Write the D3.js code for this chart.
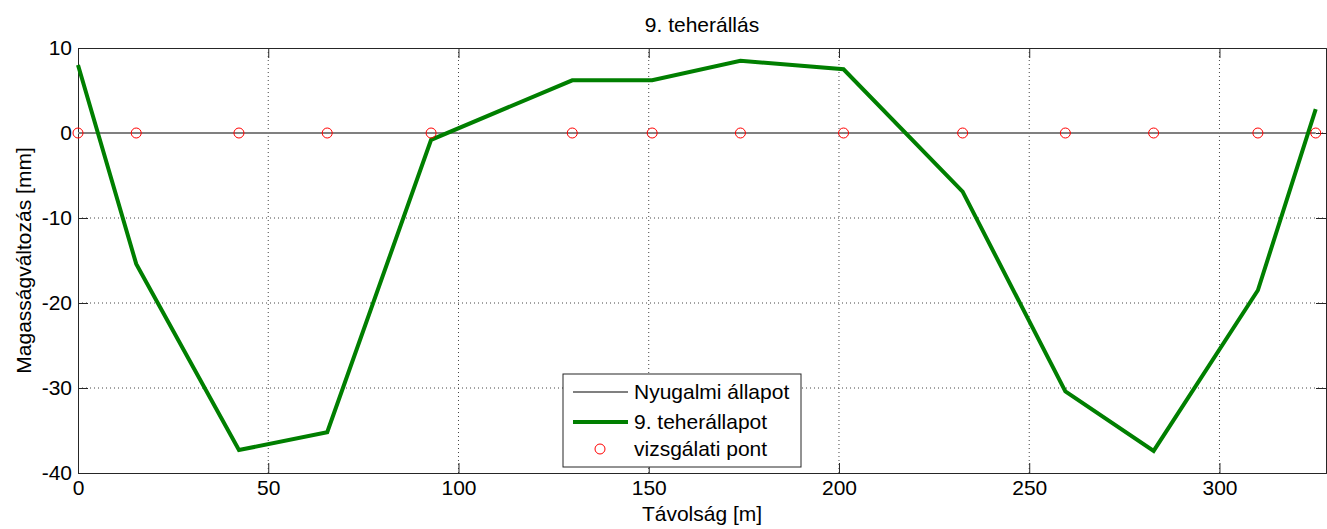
<!DOCTYPE html>
<html>
<head>
<meta charset="utf-8">
<script src="https://cdn.jsdelivr.net/npm/d3@7"></script>
<style>
  body { margin: 0; background: #fff; }
  text { font-family: "Liberation Sans", Arial, sans-serif; fill: #000; }
</style>
</head>
<body>
<div id="chart"></div>
<script>
// data
var distance = [0, 15.3, 42.3, 65.5, 92.8, 129.9, 150.9, 174.1, 201.2, 232.5, 259.5, 282.7, 310.1, 325.3];
var loaded = [8.0, -15.4, -37.3, -35.2, -0.8, 6.2, 6.2, 8.5, 7.5, -6.9, -30.4, -37.4, -18.5, 2.8];
var rest = [0, 0, 0, 0, 0, 0, 0, 0, 0, 0, 0, 0, 0, 0];
var xTicks = [0, 50, 100, 150, 200, 250, 300];
var yTicks = [-40, -30, -20, -10, 0, 10];
var legendLabels = ["Nyugalmi állapot", "9. teherállapot", "vizsgálati pont"];

var width = 1327, height = 529;
var plotLeft = 78, plotRight = 1326, plotTop = 48, plotBottom = 473;
var fontSize = "21px";

var svg = d3.select("#chart").append("svg")
    .attr("width", width)
    .attr("height", height);

var xScale = d3.scaleLinear().domain([0, 328]).range([plotLeft, plotRight]);
var yScale = d3.scaleLinear().domain([-40, 10]).range([plotBottom, plotTop]);

// grid (dotted)
svg.append("g").selectAll("line")
    .data(xTicks.filter(d => d > 0))
    .enter().append("line")
    .attr("x1", d => xScale(d)).attr("x2", d => xScale(d))
    .attr("y1", plotTop).attr("y2", plotBottom)
    .attr("stroke", "#444").attr("stroke-width", 1)
    .attr("stroke-dasharray", "1,3");
svg.append("g").selectAll("line")
    .data(yTicks.filter(d => d > -40 && d < 10))
    .enter().append("line")
    .attr("x1", plotLeft).attr("x2", plotRight)
    .attr("y1", d => yScale(d)).attr("y2", d => yScale(d))
    .attr("stroke", "#444").attr("stroke-width", 1)
    .attr("stroke-dasharray", "1,3");

// axes, ticks inward like matlab (plain hyphen for minus)
var plain = d => String(d);
var xAxis = d3.axisBottom(xScale).tickValues(xTicks).tickSize(-10).tickPadding(7).tickFormat(plain);
var yAxis = d3.axisLeft(yScale).tickValues(yTicks).tickSize(-10).tickPadding(6).tickFormat(plain);

var gx = svg.append("g").attr("transform", "translate(0," + plotBottom + ")").call(xAxis);
var gy = svg.append("g").attr("transform", "translate(" + plotLeft + ",0)").call(yAxis);
svg.append("g").attr("transform", "translate(0," + plotTop + ")")
    .call(d3.axisTop(xScale).tickValues(xTicks).tickSize(-10).tickFormat(""));
svg.append("g").attr("transform", "translate(" + plotRight + ",0)")
    .call(d3.axisRight(yScale).tickValues(yTicks).tickSize(-10).tickFormat(""));

svg.selectAll(".domain").attr("stroke", "#262626");
svg.selectAll(".tick line").attr("stroke", "#262626");
gx.selectAll("text").style("font-size", fontSize).attr("dy", "0.71em");
gy.selectAll("text").style("font-size", fontSize);

// series
var line = d3.line().x(d => xScale(d[0])).y(d => yScale(d[1]));

svg.append("path")
    .datum(d3.zip(distance, rest))
    .attr("d", line)
    .attr("fill", "none")
    .attr("stroke", "#808080")
    .attr("stroke-width", 2);

svg.append("path")
    .datum(d3.zip(distance, loaded))
    .attr("d", line)
    .attr("fill", "none")
    .attr("stroke", "#007f00")
    .attr("stroke-width", 4);

svg.append("g").selectAll("circle")
    .data(d3.zip(distance, rest))
    .enter().append("circle")
    .attr("cx", d => xScale(d[0]))
    .attr("cy", d => yScale(d[1]))
    .attr("r", 5)
    .attr("fill", "none")
    .attr("stroke", "#ff0000")
    .attr("stroke-width", 1);

// title and labels
svg.append("text")
    .attr("x", (plotLeft + plotRight) / 2).attr("y", 32)
    .attr("text-anchor", "middle")
    .style("font-size", fontSize)
    .text("9. teherállás");

svg.append("text")
    .attr("x", (plotLeft + plotRight) / 2).attr("y", 521)
    .attr("text-anchor", "middle")
    .style("font-size", fontSize)
    .text("Távolság [m]");

svg.append("text")
    .attr("transform", "translate(31," + ((plotTop + plotBottom) / 2) + ") rotate(-90)")
    .attr("text-anchor", "middle")
    .style("font-size", fontSize)
    .text("Magasságváltozás [mm]");

// legend
var legend = svg.append("g").attr("transform", "translate(563,374)");
legend.append("rect")
    .attr("width", 238).attr("height", 93)
    .attr("fill", "#fff").attr("stroke", "#262626");

var rowY = [18, 48, 75];
legend.append("line")
    .attr("x1", 10).attr("x2", 65).attr("y1", rowY[0]).attr("y2", rowY[0])
    .attr("stroke", "#808080").attr("stroke-width", 2);
legend.append("line")
    .attr("x1", 10).attr("x2", 65).attr("y1", rowY[1]).attr("y2", rowY[1])
    .attr("stroke", "#007f00").attr("stroke-width", 4);
legend.append("circle")
    .attr("cx", 37).attr("cy", rowY[2]).attr("r", 5)
    .attr("fill", "none").attr("stroke", "#ff0000");

legend.selectAll("text.lbl")
    .data(legendLabels)
    .enter().append("text")
    .attr("class", "lbl")
    .attr("x", 71)
    .attr("y", (d, i) => rowY[i])
    .attr("dy", "0.35em")
    .style("font-size", fontSize)
    .text(d => d);
</script>
</body>
</html>
